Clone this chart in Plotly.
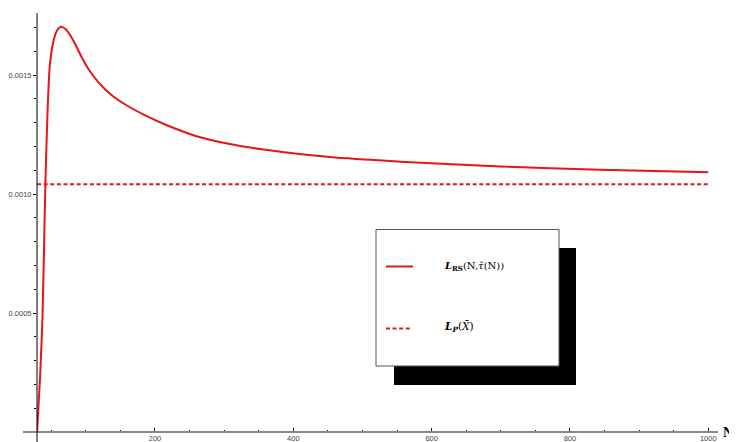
import plotly.graph_objects as go

# ---- data ----
n_values = [29.5, 34, 37.5, 41.5, 44.5, 48, 53, 58, 64, 71, 80, 94, 104, 118,
            137, 157, 186, 212, 260, 308, 357, 453, 554, 699, 843, 1000]
l_rs = [0.0, 0.000239, 0.000500, 0.001042, 0.001332, 0.001542, 0.001640,
        0.001685, 0.001703, 0.001692, 0.001655, 0.001575, 0.001524, 0.001470,
        0.001416, 0.001376, 0.001330, 0.001295, 0.001243, 0.001210, 0.001187,
        0.001155, 0.001136, 0.001116, 0.001102, 0.001091]
l_p_value = 0.001041
l_p_n = [29.5, 1000]

x_tickvals = [200, 400, 600, 800, 1000]
x_ticktext = ["200", "400", "600", "800", "1000"]
y_tickvals = [0.0005, 0.0010, 0.0015]
y_ticktext = ["0.0005", "0.0010", "0.0015"]

legend_solid = "<b><i>L</i><sub>RS</sub></b>(N,<i>τ̂</i>(N))"
legend_dash = "<b><i>L</i><sub><i>P</i></sub></b>(<i>X̄</i>)"

RED = "#e8141c"

# ---- layout geometry (page pixels; the page body adds an 8px offset) ----
OFF = 8
W, H = 737 - OFF, 442 - OFF
ML, MR, MT, MB = 37 - OFF, 16, 13 - OFF, 10
PW, PH = W - ML - MR, H - MT - MB


def px(x):
    return (x - OFF - ML) / PW


def py(y):
    return (H - MB - (y - OFF)) / PH


fig = go.Figure()
fig.add_trace(go.Scatter(x=n_values, y=l_rs, mode="lines",
                         line=dict(color=RED, width=2, shape="spline", smoothing=0.8),
                         showlegend=False, hoverinfo="skip"))
fig.add_trace(go.Scatter(x=l_p_n, y=[l_p_value, l_p_value], mode="lines",
                         line=dict(color=RED, width=2, dash="4px,2.6px"),
                         showlegend=False, hoverinfo="skip"))

shapes = []
# axes lines
shapes.append(dict(type="line", xref="paper", yref="paper", x0=px(23), x1=px(718),
                   y0=0, y1=0, line=dict(color="#8a8a8a", width=2), layer="above"))
shapes.append(dict(type="line", xref="paper", yref="paper", x0=0, x1=0,
                   y0=py(442), y1=py(13), line=dict(color="#000000", width=1), layer="above"))
# legend shadow and box
shapes.append(dict(type="rect", xref="paper", yref="paper", x0=px(394), x1=px(576),
                   y0=py(385), y1=py(248), fillcolor="#000000",
                   line=dict(color="#000000", width=0), layer="above"))
shapes.append(dict(type="rect", xref="paper", yref="paper", x0=px(376), x1=px(559),
                   y0=py(366), y1=py(229.5), fillcolor="#ffffff",
                   line=dict(color="#555555", width=1), layer="above"))
# legend samples
shapes.append(dict(type="line", xref="paper", yref="paper", x0=px(386), x1=px(413),
                   y0=py(266.5), y1=py(266.5), line=dict(color=RED, width=2), layer="above"))
shapes.append(dict(type="line", xref="paper", yref="paper", x0=px(386), x1=px(411),
                   y0=py(328.5), y1=py(328.5), line=dict(color=RED, width=2, dash="4px,2.6px"),
                   layer="above"))

annotations = [
    dict(text=legend_solid, xref="paper", yref="paper", x=px(442), y=py(266),
         xanchor="left", yanchor="middle", showarrow=False,
         font=dict(family="DejaVu Serif", size=10, color="#000")),
    dict(text=legend_dash, xref="paper", yref="paper", x=px(442), y=py(327),
         xanchor="left", yanchor="middle", showarrow=False,
         font=dict(family="DejaVu Serif", size=10.5, color="#000")),
    dict(text="<b>N</b>", xref="paper", yref="paper", x=px(721), y=py(432),
         xanchor="left", yanchor="middle", showarrow=False,
         font=dict(family="Liberation Serif", size=14, color="#000")),
]

fig.update_layout(
    width=W, height=H,
    margin=dict(l=ML, r=MR, t=MT, b=MB, pad=0, autoexpand=False),
    paper_bgcolor="#ffffff", plot_bgcolor="#ffffff",
    shapes=shapes, annotations=annotations,
    xaxis=dict(range=[29.4, 1018.4], showgrid=False, zeroline=False, showline=False,
               automargin=False,
               tickmode="array", tickvals=x_tickvals, ticktext=x_ticktext,
               ticks="inside", ticklen=4, tickwidth=1, tickcolor="#000",
               tickfont=dict(family="Liberation Sans", size=7.5, color="#444"),
               minor=dict(dtick=50, tick0=0, ticks="inside", ticklen=2.5,
                          tickcolor="#000", tickwidth=1, showgrid=False)),
    yaxis=dict(range=[0, 0.0017605], showgrid=False, zeroline=False, showline=False,
               automargin=False,
               tickmode="array", tickvals=y_tickvals, ticktext=y_ticktext,
               ticks="outside", ticklen=3, tickwidth=1, tickcolor="#000",
               tickfont=dict(family="Liberation Sans", size=7.5, color="#444"),
               minor=dict(dtick=0.0001, tick0=0, ticks="outside", ticklen=2,
                          tickcolor="#000", tickwidth=1, showgrid=False)),
)

fig.write_html("out.html")
